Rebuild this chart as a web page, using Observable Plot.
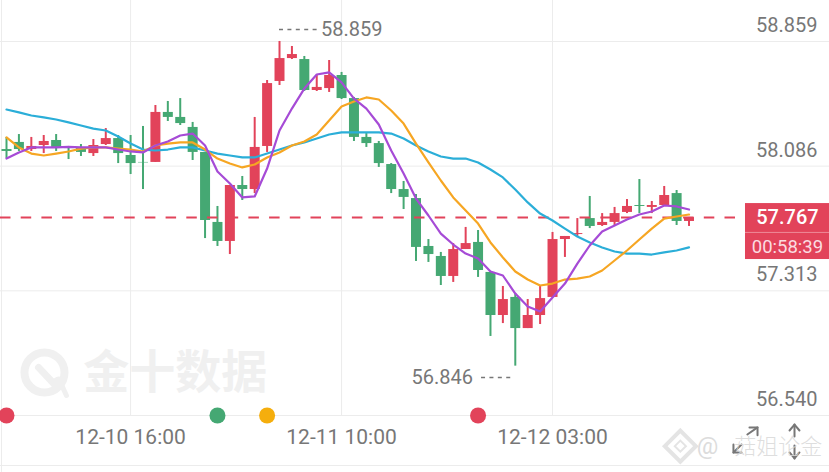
<!DOCTYPE html>
<html>
<head>
<meta charset="utf-8">
<script src="https://cdn.jsdelivr.net/npm/d3@7"></script>
<script src="https://cdn.jsdelivr.net/npm/@observablehq/plot@0.6"></script>
<style>html,body{margin:0;padding:0;background:#fff}svg{display:block}</style>
</head>
<body>
<div id="chart"></div>
<script>
const opens=[58.189,58.233,58.189,58.214,58.245,58.202,58.202,58.164,58.220,58.257,58.152,58.109,58.109,58.419,58.388,58.326,58.171,57.737,57.619,57.966,57.941,58.208,58.611,58.753,58.747,58.555,58.567,58.648,58.505,58.264,58.226,58.096,57.941,57.885,57.588,57.526,57.402,57.569,57.613,57.427,57.160,57.272,57.079,57.160,57.272,57.631,57.662,57.761,57.718,57.737,57.799,57.842,57.830,57.842,57.916,57.743];
const closes=[58.177,58.189,58.208,58.239,58.202,58.195,58.171,58.214,58.257,58.164,58.102,58.106,58.419,58.388,58.350,58.171,57.749,57.619,57.966,57.941,58.202,58.598,58.753,58.778,58.555,58.574,58.648,58.505,58.264,58.226,58.102,57.941,57.892,57.582,57.538,57.402,57.569,57.606,57.439,57.160,57.259,57.079,57.160,57.265,57.631,57.650,57.668,57.712,57.737,57.792,57.836,57.836,57.842,57.904,57.743,57.767];
const highs=[58.264,58.282,58.264,58.276,58.282,58.208,58.220,58.251,58.319,58.276,58.276,58.332,58.462,58.487,58.505,58.357,58.171,57.836,57.966,58.022,58.388,58.617,58.859,58.828,58.766,58.648,58.741,58.667,58.512,58.288,58.239,58.102,57.991,57.910,57.631,57.551,57.606,57.706,57.687,57.427,57.340,57.296,57.259,57.340,57.675,57.650,57.761,57.898,57.792,57.830,57.879,58.003,57.867,57.960,57.935,57.768];
const lows=[58.133,58.177,58.177,58.164,58.177,58.127,58.146,58.146,58.214,58.102,58.034,57.941,58.109,58.363,58.338,58.121,57.637,57.588,57.538,57.873,57.916,58.171,58.586,58.747,58.549,58.549,58.543,58.499,58.239,58.202,58.078,57.916,57.817,57.495,57.489,57.346,57.365,57.569,57.396,57.030,57.110,56.846,57.079,57.104,57.272,57.520,57.650,57.699,57.712,57.718,57.792,57.792,57.792,57.842,57.718,57.712];
const maPurple=[58.133,58.171,58.202,58.202,58.202,58.205,58.202,58.202,58.202,58.189,58.177,58.171,58.214,58.239,58.276,58.288,58.214,58.053,57.978,57.892,57.898,58.071,58.307,58.443,58.567,58.654,58.667,58.605,58.505,58.443,58.344,58.183,58.040,57.885,57.780,57.668,57.600,57.544,57.513,57.433,57.408,57.296,57.216,57.185,57.272,57.358,57.482,57.594,57.681,57.718,57.755,57.786,57.805,57.842,57.836,57.817];
const maOrange=[58.264,58.202,58.164,58.152,58.164,58.177,58.195,58.202,58.202,58.195,58.189,58.177,58.214,58.226,58.233,58.233,58.189,58.133,58.102,58.078,58.096,58.140,58.171,58.214,58.239,58.282,58.369,58.456,58.487,58.512,58.499,58.431,58.350,58.226,58.109,57.997,57.892,57.811,57.730,57.613,57.520,57.433,57.383,57.346,57.358,57.383,57.389,57.402,57.439,57.501,57.563,57.631,57.699,57.761,57.774,57.786];
const maBlue=[58.437,58.419,58.400,58.388,58.375,58.357,58.338,58.319,58.307,58.270,58.226,58.189,58.183,58.189,58.202,58.202,58.183,58.164,58.152,58.140,58.140,58.164,58.189,58.214,58.233,58.257,58.282,58.295,58.295,58.295,58.295,58.288,58.257,58.214,58.177,58.146,58.133,58.133,58.109,58.065,58.016,57.941,57.861,57.792,57.749,57.699,57.650,57.613,57.582,57.557,57.544,57.544,57.538,57.551,57.563,57.582];
const priceTicks=[58.859,58.086,57.313,56.540];
const timeIdx=[10,27,44];
const timeLabels=["12-10 16:00","12-11 10:00","12-12 03:00"];
const lastPrice=57.767;
const countdown="00:58:39";
const highLabel=58.859, lowLabel=56.846;
const eventIdx=[0,17,21,38];
const eventColors=["#e2435a","#45a873","#f5ae0d","#e2435a"];

const RED="#e2435a",GREEN="#45a873",GREY="#777";
const FONT="Roboto, sans-serif";
const idx=d3.range(opens.length);
const col=i=>closes[i]>opens[i]?RED:GREEN;
const line=(arr,stroke)=>Plot.line(idx,{x:i=>i,y:i=>arr[i],stroke,strokeWidth:2.2,strokeLinejoin:"round"});
const seg=(x1,y1,x2,y2,o)=>Plot.line([[x1,y1],[x2,y2]],{x:"0",y:"1",...o});
const poly=(pts,o)=>Plot.line(pts,{x:"0",y:"1",...o});
const WM="#f0f0f0";
const ICON={stroke:GREY,strokeWidth:2};

const plot=Plot.plot({
  width:829,height:472,marginLeft:0,marginRight:0,marginTop:0,marginBottom:57,
  style:{fontFamily:FONT,background:"#fff"},
  x:{domain:[-0.4835,66.32],axis:null},
  y:{domain:[56.540,59.113],axis:null},
  marks:[
    Plot.gridY(priceTicks,{stroke:"#ececec",strokeOpacity:1,strokeWidth:1}),
    Plot.gridX(timeIdx,{stroke:"#ececec",strokeOpacity:1,strokeWidth:1}),
    Plot.ruleY([56.23],{stroke:"#ececec"}),
    Plot.ruleX([-0.4],{y1:59.113,y2:56.187,stroke:"#ececec"}),
    // watermark
    Plot.dot([[3.06,56.807]],{x:"0",y:"1",r:20,stroke:WM,strokeWidth:8,fill:"none"}),
    seg(2.58,56.838,3.95,56.726,{stroke:WM,strokeWidth:7}),
    seg(4.35,56.745,4.83,56.664,{stroke:WM,strokeWidth:5}),
    Plot.dot([[4.2,56.745]],{x:"0",y:"1",r:6,fill:WM}),
    Plot.text(["金十数据"],{x:13.6,y:56.80,text:d=>d,fontSize:46,fontWeight:700,fill:WM,fontFamily:"'Noto Sans CJK SC'"}),
    // candles
    Plot.ruleX(idx,{x:i=>i,y1:i=>lows[i],y2:i=>highs[i],stroke:col,strokeWidth:2}),
    Plot.ruleX(idx,{x:i=>i,y1:i=>opens[i],y2:i=>closes[i],stroke:col,strokeWidth:10}),
    // last price line
    Plot.ruleY([lastPrice],{x1:-0.4835,x2:59.55,stroke:RED,strokeWidth:2,strokeDasharray:"10.5 10.2"}),
    line(maBlue,"#2baed8"),
    line(maOrange,"#f6a623"),
    line(maPurple,"#a64bd6"),
    // high and low
    Plot.ruleY([58.933],{x1:22.0,x2:25.06,stroke:GREY,strokeWidth:1.5,strokeDasharray:"4 4.4"}),
    Plot.text([highLabel],{x:30.3,y:58.933,text:d=>d.toFixed(3),textAnchor:"end",fontSize:20,fill:GREY}),
    Plot.ruleY([56.776],{x1:38.28,x2:40.77,stroke:GREY,strokeWidth:1.5,strokeDasharray:"4 4.4"}),
    Plot.text([lowLabel],{x:32.63,y:56.776,text:d=>d.toFixed(3),textAnchor:"start",fontSize:20,fill:GREY}),
    // axes
    Plot.axisY(priceTicks,{anchor:"right",tickSize:0,tickPadding:-12,textAnchor:"end",dy:-16,fontSize:20,color:GREY,tickFormat:d=>d.toFixed(3),label:null}),
    Plot.axisX(timeIdx,{anchor:"bottom",tickSize:0,tickPadding:14,fontSize:21,color:GREY,tickFormat:d=>timeLabels[timeIdx.indexOf(d)],label:null}),
    // events
    Plot.dot(eventIdx,{x:d=>d,y:56.540,r:8,fill:(d,i)=>eventColors[i]}),
    // price tag
    Plot.rect([0],{x1:59.55,x2:66.32,y1:57.854,y2:57.507,fill:RED}),
    Plot.ruleY([57.675],{x1:59.55,x2:66.32,stroke:"#ee8a98",strokeWidth:1}),
    Plot.text([lastPrice],{x:62.93,y:57.767,text:d=>d.toFixed(3),fontSize:20,fontWeight:500,fill:"#fff"}),
    Plot.text([countdown],{x:62.93,y:57.587,text:d=>d,fontSize:18.5,fill:"#fbdce1"}),
    // corner icons
    seg(58.58,56.311,59.23,56.360,ICON),
    poly([[59.23,56.311],[58.58,56.311],[58.58,56.360]],ICON),
    seg(59.7,56.422,60.52,56.466,ICON),
    poly([[59.87,56.466],[60.52,56.466],[60.52,56.417]],ICON),
    seg(63.5,56.484,63.5,56.410,ICON),
    poly([[63.1,56.447],[63.5,56.484],[63.9,56.447]],ICON),
    seg(63.5,56.354,63.5,56.274,ICON),
    poly([[63.1,56.311],[63.5,56.274],[63.9,56.311]],ICON),
    Plot.dot([[54.3,56.35]],{x:"0",y:"1",symbol:"diamond2",r:14,stroke:"#e4e4e4",strokeWidth:4,fill:"none"}),
    Plot.dot([[54.3,56.35]],{x:"0",y:"1",symbol:"diamond2",r:5,stroke:"#e4e4e4",strokeWidth:2,fill:"none"}),
    Plot.text(["@"],{x:56.5,y:56.35,text:d=>d,fontSize:24,fontFamily:"Roboto",fill:"#dcdcdc"}),
    Plot.text(["菇姐论金"],{x:62.2,y:56.345,text:d=>d,fontSize:22,fontWeight:300,fill:"#d8d8d8",fillOpacity:0.85,fontFamily:"'Noto Sans CJK SC'"})
  ]
});
document.getElementById("chart").append(plot);
</script>
</body>
</html>
